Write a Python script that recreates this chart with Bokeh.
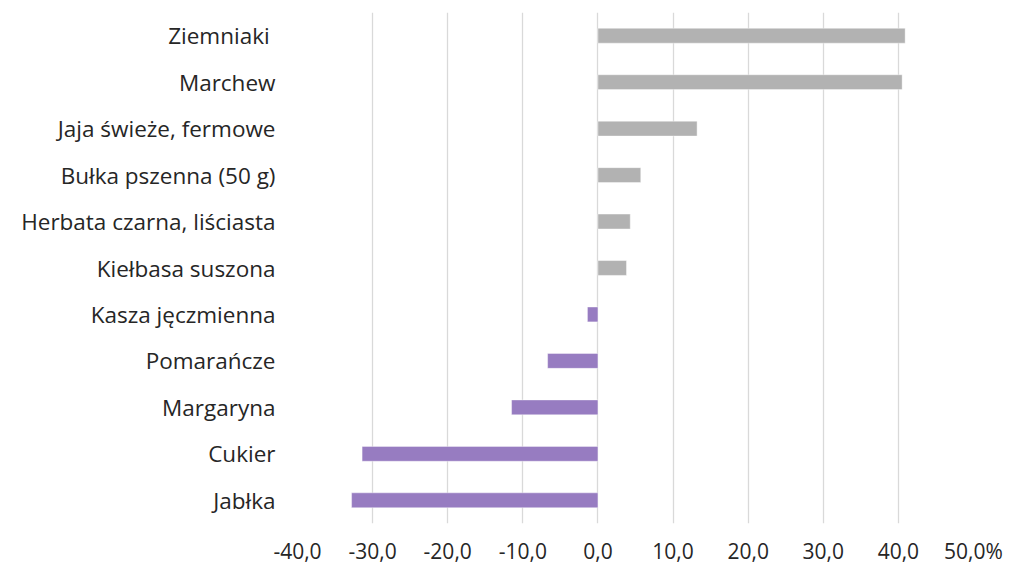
from bokeh.plotting import figure
from bokeh.models import FixedTicker, ColumnDataSource, Range1d
from bokeh.embed import file_html
from bokeh.resources import INLINE

categories = ["Ziemniaki ", "Marchew", "Jaja świeże, fermowe", "Bułka pszenna (50 g)",
              "Herbata czarna, liściasta", "Kiełbasa suszona", "Kasza jęczmienna",
              "Pomarańcze", "Margaryna", "Cukier", "Jabłka"]
values = [40.9, 40.5, 13.2, 5.7, 4.3, 3.8, -1.4, -6.7, -11.5, -31.4, -32.8]
tick_values = [-40, -30, -20, -10, 0, 10, 20, 30, 40, 50]
tick_labels = ["-40,0", "-30,0", "-20,0", "-10,0", "0,0", "10,0", "20,0", "30,0", "40,0", "50,0%"]

POS_COLOR = "#B2B2B2"
NEG_COLOR = "#977CC1"
FONT = "Open Sans"

colors = [POS_COLOR if v >= 0 else NEG_COLOR for v in values]
src = ColumnDataSource(dict(cat=categories, val=values, zero=[0] * len(values), color=colors))

p = figure(width=1010, height=569, output_backend="svg", toolbar_location=None,
           y_range=list(reversed(categories)), x_range=Range1d(-40, 50),
           min_border_left=297, min_border_right=37, min_border_top=12, min_border_bottom=46)

p.hbar(y="cat", left="zero", right="val", height=0.32, color="color", source=src,
       line_color="white", line_alpha=0.4, line_width=1)

p.outline_line_color = None
p.background_fill_color = "white"
p.border_fill_color = "white"

p.xgrid.ticker = FixedTicker(ticks=tick_values)
p.xgrid.grid_line_color = "#D9D9D9"
p.xgrid.grid_line_width = 1.3
p.ygrid.grid_line_color = None

p.xaxis.ticker = FixedTicker(ticks=tick_values)
p.xaxis.major_label_overrides = {v: l for v, l in zip(tick_values, tick_labels)}
p.xaxis.axis_line_color = None
p.xaxis.major_tick_line_color = None
p.xaxis.minor_tick_line_color = None
p.xaxis.major_tick_out = 0
p.xaxis.major_tick_in = 0
p.xaxis.major_label_standoff = 13
p.xaxis.major_label_text_font = FONT
p.xaxis.major_label_text_font_size = "21px"
p.xaxis.major_label_text_color = "#262626"

p.yaxis.axis_line_color = None
p.yaxis.major_tick_line_color = None
p.yaxis.minor_tick_line_color = None
p.yaxis.major_tick_out = 0
p.yaxis.major_tick_in = 0
p.yaxis.major_label_standoff = 22
p.yaxis.major_label_text_font = FONT
p.yaxis.major_label_text_font_size = "22.5px"
p.yaxis.major_label_text_color = "#262626"

p.y_range.range_padding = 0

open("out.html", "w").write(file_html(p, INLINE))
